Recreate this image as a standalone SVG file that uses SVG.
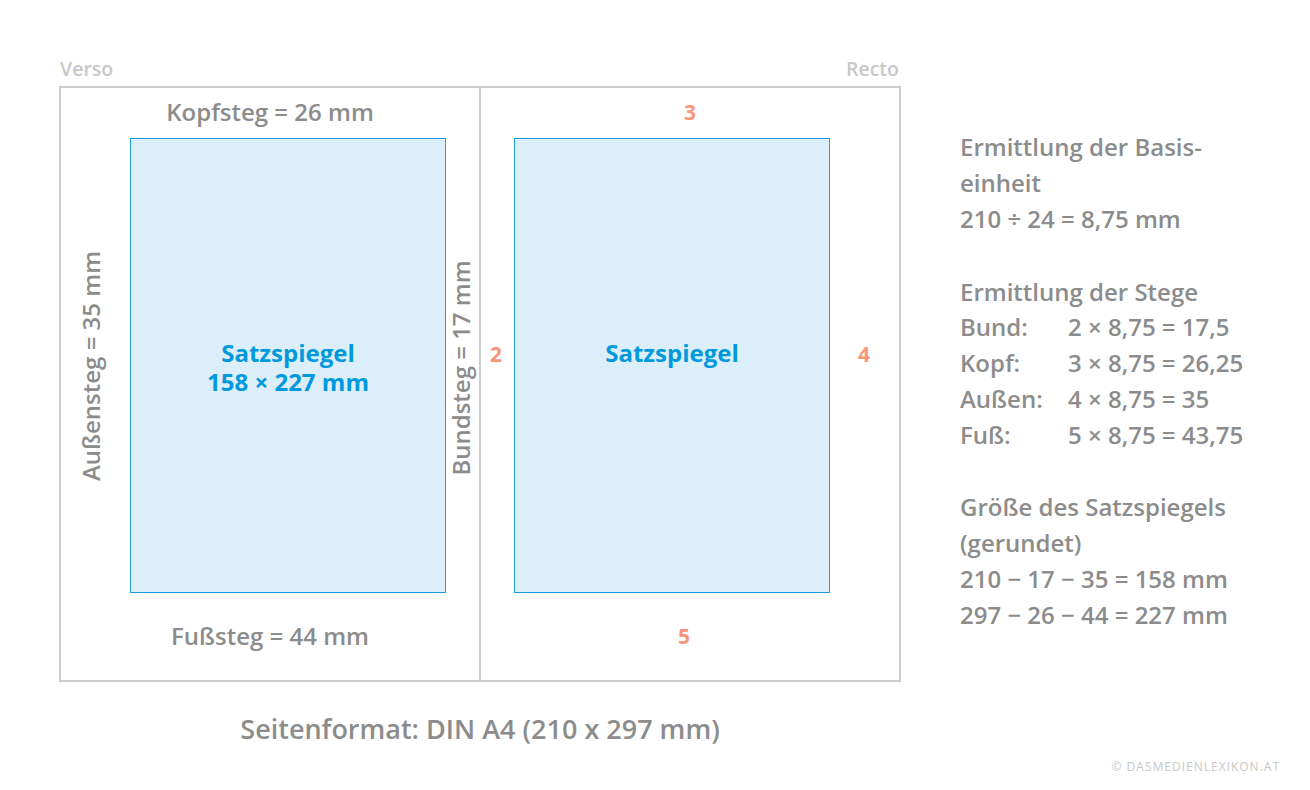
<svg xmlns="http://www.w3.org/2000/svg" width="1310" height="790" viewBox="0 0 1310 790">
<style>
text{font-family:"Open Sans","Liberation Sans",sans-serif}
.g{fill:#8c8c8c;font-size:24px;font-weight:600}
.l{fill:#c8c8c8;font-size:19.5px;font-weight:600}
.n{fill:#f9967a;font-size:21px;font-weight:bold;text-anchor:middle}
.b{fill:#0099dd;font-size:24px;font-weight:bold;text-anchor:middle}
.page{fill:none;stroke:#cccccc;stroke-width:2}
.ss{fill:#dbeef9;stroke:#1a9ad6;stroke-width:1}
</style>
<rect width="1310" height="790" fill="#ffffff"/>
<g id="pages">
<rect class="page" x="60" y="87" width="840" height="594"/>
<line class="page" x1="480" y1="87" x2="480" y2="681"/>
<text class="l" x="60" y="76">Verso</text>
<text class="l" x="899" y="76" text-anchor="end">Recto</text>
</g>
<g id="verso">
<rect class="ss" x="130.5" y="138.5" width="315" height="454"/>
<text class="g" x="270" y="121" text-anchor="middle">Kopfsteg = 26 mm</text>
<text class="g" x="270" y="645" text-anchor="middle">Fußsteg = 44 mm</text>
<text class="g" transform="translate(100,366) rotate(-90)" text-anchor="middle">Außensteg = 35 mm</text>
<text class="g" transform="translate(470,368) rotate(-90)" text-anchor="middle">Bundsteg = 17 mm</text>
<text class="b" x="288" y="362">Satzspiegel</text>
<text class="b" x="288" y="391">158 × 227 mm</text>
</g>
<g id="recto">
<rect class="ss" x="514.5" y="138.5" width="315" height="454"/>
<text class="b" x="672" y="362">Satzspiegel</text>
<text class="n" x="690" y="120">3</text>
<text class="n" x="496" y="362">2</text>
<text class="n" x="864" y="362">4</text>
<text class="n" x="684" y="644">5</text>
</g>
<g id="calc">
<text class="g" x="960" y="156">Ermittlung der Basis-</text>
<text class="g" x="960" y="192">einheit</text>
<text class="g" x="960" y="228">210 ÷ 24 = 8,75 mm</text>
<text class="g" x="960" y="301">Ermittlung der Stege</text>
<text class="g" x="960" y="336">Bund:</text>
<text class="g" x="1068" y="336">2 × 8,75 = 17,5</text>
<text class="g" x="960" y="372">Kopf:</text>
<text class="g" x="1068" y="372">3 × 8,75 = 26,25</text>
<text class="g" x="960" y="408">Außen:</text>
<text class="g" x="1068" y="408">4 × 8,75 = 35</text>
<text class="g" x="960" y="444">Fuß:</text>
<text class="g" x="1068" y="444">5 × 8,75 = 43,75</text>
<text class="g" x="960" y="516">Größe des Satzspiegels</text>
<text class="g" x="960" y="552">(gerundet)</text>
<text class="g" x="960" y="588">210 − 17 − 35 = 158 mm</text>
<text class="g" x="960" y="624">297 − 26 − 44 = 227 mm</text>
</g>
<g id="footer">
<text class="g" x="480" y="739" text-anchor="middle" style="font-size:27px">Seitenformat: DIN A4 (210 x 297 mm)</text>
<text x="1280" y="771" text-anchor="end" style="fill:#c8c8c8;font-size:12px;letter-spacing:1px">© DASMEDIENLEXIKON.AT</text>
</g>
</svg>
